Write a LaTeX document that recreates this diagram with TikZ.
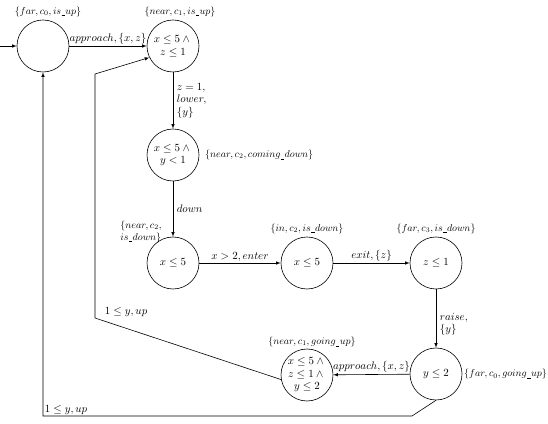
\documentclass[tikz,border=0pt]{standalone}
\usetikzlibrary{positioning}
\newcommand{\us}{\kern0.5pt\rule[-1.5pt]{3.2pt}{0.4pt}\kern0.5pt}
\begin{document}
\begin{tikzpicture}[x=1pt, y=1pt, >=latex, line width=0.6pt,
    font=\fontsize{10.5}{12.5}\selectfont,
    loc/.style={circle, draw, minimum size=52pt, inner sep=0pt, align=center},
    lab/.style={inner sep=1.5pt},
    set/.style={inner sep=1.5pt, font=\fontsize{10}{12}\selectfont}]
    \useasboundingbox (0,0) rectangle (548,423);

    % Locations
    \node[loc] (far0)   at (43,377)  {};
    \node[loc] (near1)  at (173,377) {$x \le 5 \wedge{}$\\$z \le 1$};
    \node[loc] (coming) at (173,268) {$x \le 5 \wedge{}$\\$y < 1$};
    \node[loc] (isdown) at (173,160) {$x \le 5$};
    \node[loc] (inside) at (307,160) {$x \le 5$};
    \node[loc] (far3)   at (436,160) {$z \le 1$};
    \node[loc] (farup)  at (436,49)  {$y \le 2$};
    \node[loc] (nearup) at (307,48)  {$x \le 5 \wedge{}$\\$z \le 1 \wedge{}$\\$y \le 2$};

    % State sets
    \node[set, above=1pt of far0, xshift=5pt] (n0) {$\{far, c_0, is\us up\}$};
    \node[set, above=1pt of near1, xshift=7pt] (n1) {$\{near, c_1, is\us up\}$};
    \node[set, right=4pt of coming] (n2) {$\{near, c_2, coming\us down\}$};
    \node[set, anchor=south east, align=left] (n3) at ([xshift=9pt]isdown.north west)
        {$\{near, c_2,$\\$is\us down\}$};
    \node[set, above=1pt of inside] (n4) {$\{in, c_2, is\us down\}$};
    \node[set, above=1pt of far3] (n5) {$\{far, c_3, is\us down\}$};
    \node[set, right=0pt of farup] (n6) {$\{far, c_0, going\us up\}$};
    \node[set, above=0pt of nearup, xshift=5pt] (n7) {$\{near, c_1, going\us up\}$};

    % Bends
    \coordinate (init) at (0,377);
    \coordinate (b1) at (412,7);
    \coordinate (b2) at (43,7);
    \coordinate (c1) at (95,105);
    \coordinate (c2) at (95,349);

    % Edges
    \draw[->] (init) -- (far0);
    \draw[->] (far0) -- node[lab, above] (e01) {$approach, \{x,z\}$} (near1);
    \draw[->] (near1) -- node[lab, right, align=left, xshift=2pt] (e12)
        {$z = 1,$\\$lower,$\\$\{y\}$} (coming);
    \draw[->] (coming) -- node[lab, right, xshift=2pt] (e23) {$down$} (isdown);
    \draw[->] (isdown) -- node[lab, above] (e34) {$x > 2, enter$} (inside);
    \draw[->] (inside) -- node[lab, above] (e45) {$exit, \{z\}$} (far3);
    \draw[->] (far3) -- node[lab, right, align=left, pos=0.6, xshift=2pt] (e56)
        {$raise,$\\$\{y\}$} (farup);
    \draw[->] (farup) -- node[lab, above] (e67) {$approach, \{x,z\}$} (nearup);

    % Back edges
    \draw[->] (nearup.190) -- (c1) node[lab, above right, xshift=8pt] (e71) {$1 \le y, up$}
        -- (c2) -- (near1.206);
    \draw[->] (farup.south) -- (b1) -- (b2) node[lab, above right] (e60) {$1 \le y, up$}
        -- (far0);
\end{tikzpicture}
\end{document}
